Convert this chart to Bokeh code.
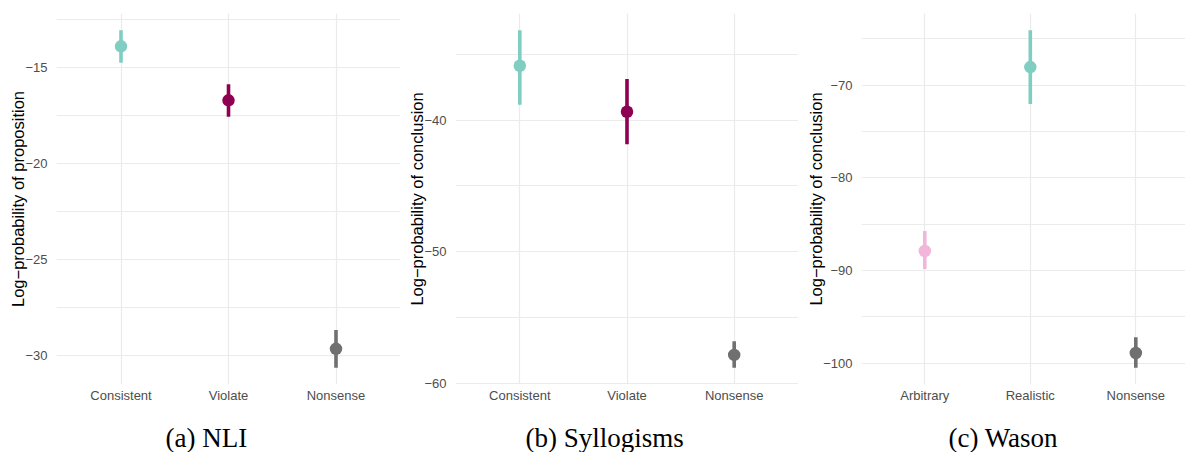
from bokeh.plotting import figure
from bokeh.layouts import row
from bokeh.models import Range1d, FixedTicker, CustomJSTickFormatter, Title
from bokeh.embed import file_html
from bokeh.resources import INLINE

# ---------------- data ----------------
nli_cats = ["Consistent", "Violate", "Nonsense"]
nli_mean = [-13.92, -16.73, -29.66]
nli_low = [-14.77, -17.58, -30.64]
nli_high = [-13.09, -15.90, -28.68]
nli_ticks = [-30, -25, -20, -15]
nli_minor = [-27.5, -22.5, -17.5, -12.5]

syl_cats = ["Consistent", "Violate", "Nonsense"]
syl_mean = [-35.87, -39.37, -57.85]
syl_low = [-38.83, -41.83, -58.82]
syl_high = [-33.18, -36.88, -56.81]
syl_ticks = [-60, -50, -40]
syl_minor = [-55, -45, -35]

was_cats = ["Arbitrary", "Realistic", "Nonsense"]
was_mean = [-87.88, -68.03, -98.89]
was_low = [-89.82, -72.01, -100.47]
was_high = [-85.72, -64.07, -97.20]
was_ticks = [-100, -90, -80, -70]
was_minor = [-95, -85, -75, -65]

cat_colors = {
    "Consistent": "#80CDC1",
    "Realistic": "#80CDC1",
    "Violate": "#8E0152",
    "Arbitrary": "#F1B6DA",
    "Nonsense": "#707070",
}

SANS = "Liberation Sans"
SERIF = "Liberation Serif"
GRID = "#EBEBEB"

minus_fmt = "return String(tick).replace('-', '\u2212');"


def make_panel(cats, mean, low, high, ticks, minor, ylabel, caption,
               width, border_left, x_end, cap_offset):
    xs = list(range(1, len(cats) + 1))
    lo_all = min(low)
    hi_all = max(high)
    pad = 0.05 * (hi_all - lo_all)
    p = figure(width=width, height=452, output_backend="svg",
               toolbar_location=None,
               x_range=Range1d(0.4, x_end),
               y_range=Range1d(lo_all - pad, hi_all + pad),
               min_border_left=border_left, min_border_right=0,
               min_border_top=13, min_border_bottom=68)
    p.outline_line_color = None
    p.background_fill_color = "white"
    p.border_fill_color = "white"

    # x axis (a blank axis label is used only as vertical spacing)
    p.xaxis.ticker = FixedTicker(ticks=xs)
    p.xaxis.major_label_overrides = {x: c for x, c in zip(xs, cats)}
    p.xaxis.major_label_text_font = SANS
    p.xaxis.major_label_text_font_size = "13px"
    p.xaxis.major_label_text_color = "#4D4D4D"
    p.xaxis.major_label_standoff = 3
    p.xaxis.axis_label = " "
    p.xaxis.axis_label_text_font_size = "1px"
    p.xaxis.axis_label_standoff = 11
    p.xaxis.axis_line_color = None
    p.xaxis.major_tick_line_color = None
    p.xaxis.minor_tick_line_color = None
    p.xaxis.major_tick_out = 0
    p.xaxis.major_tick_in = 0

    # caption below the panel
    cap = Title(text=caption, text_font=SERIF, text_font_size="27px",
                text_font_style="normal", text_color="black",
                align="left", offset=cap_offset, standoff=0,
                vertical_align="bottom")
    p.add_layout(cap, "below")

    # y axis
    p.yaxis.ticker = FixedTicker(ticks=ticks, minor_ticks=minor)
    p.yaxis.formatter = CustomJSTickFormatter(code=minus_fmt)
    p.yaxis.axis_label = ylabel
    p.yaxis.axis_label_text_font = SANS
    p.yaxis.axis_label_text_font_size = "16.5px"
    p.yaxis.axis_label_text_font_style = "normal"
    p.yaxis.axis_label_text_color = "black"
    p.yaxis.axis_label_standoff = -5
    p.yaxis.major_label_text_font = SANS
    p.yaxis.major_label_text_font_size = "13px"
    p.yaxis.major_label_text_color = "#4D4D4D"
    p.yaxis.major_label_standoff = 5
    p.yaxis.axis_line_color = None
    p.yaxis.major_tick_line_color = None
    p.yaxis.minor_tick_line_color = None
    p.yaxis.major_tick_out = 0
    p.yaxis.major_tick_in = 0

    # grids
    p.xgrid.grid_line_color = GRID
    p.xgrid.grid_line_width = 1.2
    p.ygrid.grid_line_color = GRID
    p.ygrid.grid_line_width = 1.2
    p.ygrid.minor_grid_line_color = GRID
    p.ygrid.minor_grid_line_width = 1.0

    cols = [cat_colors[c] for c in cats]
    p.segment(x0=xs, y0=low, x1=xs, y1=high, line_color=cols,
              line_width=3.6, line_cap="butt")
    p.scatter(x=xs, y=mean, size=12.5, fill_color=cols, line_color=cols,
              line_width=0)
    return p


pa = make_panel(nli_cats, nli_mean, nli_low, nli_high, nli_ticks, nli_minor,
                "Log\u2212probability of proposition", "(a) NLI",
                400, 56, 3.6, 109)
pb = make_panel(syl_cats, syl_mean, syl_low, syl_high, syl_ticks, syl_minor,
                "Log\u2212probability of conclusion", "(b) Syllogisms",
                398, 55, 3.6, 70)
pc = make_panel(was_cats, was_mean, was_low, was_high, was_ticks, was_minor,
                "Log\u2212probability of conclusion", "(c) Wason",
                387, 63, 3.471, 87)

p = row(pa, pb, pc, spacing=0)

open("out.html", "w").write(file_html(p, INLINE))
